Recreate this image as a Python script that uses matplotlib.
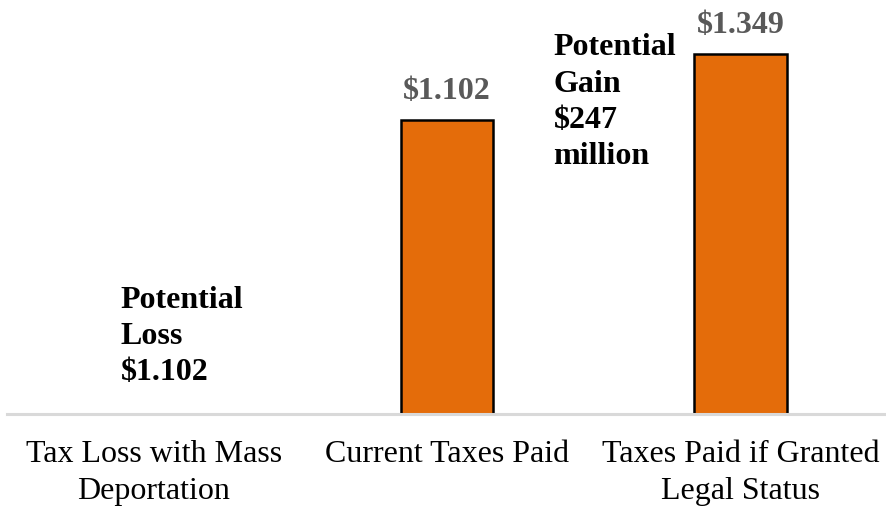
import matplotlib.pyplot as plt
import numpy as np

plt.rcParams["font.family"] = ["Liberation Serif", "DejaVu Serif"]

categories = ["Tax Loss with Mass\nDeportation", "Current Taxes Paid", "Taxes Paid if Granted\nLegal Status"]
values = [0.0, 1.102, 1.349]
value_labels = ["", "$1.102", "$1.349"]
loss_note = "Potential\nLoss\n$1.102"
gain_note = "Potential\nGain\n$247\nmillion"

fig = plt.figure(figsize=(8.87, 5.10), dpi=100)
ax = fig.add_axes([7 / 887, 95 / 510, 880 / 887, 415 / 510])

x = np.arange(len(categories))
bars = ax.bar(x, values, width=0.315, color="#E46C0A", edgecolor="black", linewidth=1.8)

for rect, lab in zip(bars, value_labels):
    if lab:
        ax.annotate(lab, (rect.get_x() + rect.get_width() / 2, rect.get_height()),
                    xytext=(0, 11), textcoords="offset points", ha="center", va="bottom",
                    fontsize=23, fontweight="bold", color="#595959")

ax.text(-0.112, 0.485, loss_note, ha="left", va="top", fontsize=23, fontweight="bold",
        linespacing=1.33)
ax.text(1.363, 1.43, gain_note, ha="left", va="top", fontsize=23, fontweight="bold",
        linespacing=1.33)

ax.set_xlim(-0.5, 2.5)
ax.set_ylim(0, 1.555)
ax.set_xticks(x)
ax.set_xticklabels(categories, fontsize=23, linespacing=1.35)
ax.tick_params(axis="x", length=0, pad=18)
ax.set_yticks([])
for side in ["left", "right", "top"]:
    ax.spines[side].set_visible(False)
ax.spines["bottom"].set_color("#D9D9D9")
ax.spines["bottom"].set_linewidth(2.2)

fig.savefig("out.png", dpi=100)
